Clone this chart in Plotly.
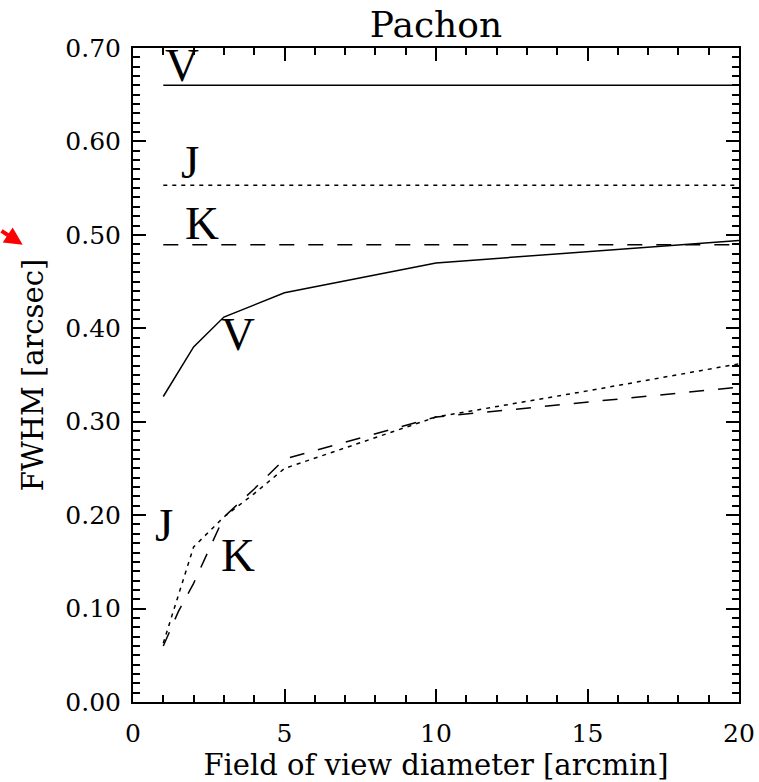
import plotly.graph_objects as go

# ---- data ----
fov_v = [1, 2, 3, 5, 10, 20]
fwhm_v = [0.327, 0.380, 0.412, 0.438, 0.470, 0.494]

fov_j = [1, 2, 3, 4, 5, 10, 15, 20]
fwhm_j = [0.063, 0.166, 0.198, 0.223, 0.250, 0.305, 0.333, 0.362]

fov_k = [1, 1.5, 2, 3, 4, 5, 10, 20]
fwhm_k = [0.060, 0.097, 0.127, 0.198, 0.228, 0.260, 0.305, 0.337]

fov_flat = [1, 20]
seeing_v = 0.660
seeing_j = 0.553
seeing_k = 0.4895

# label positions (band, x, y)
label_text = ["V", "J", "K", "V", "J", "K"]
label_x = [1.63, 1.88, 2.29, 3.45, 1.02, 3.45]
label_y = [0.682, 0.578, 0.513, 0.394, 0.189, 0.157]

BLACK = "black"
fig = go.Figure()

def add_line(x, y, dash, width=1.5):
    fig.add_trace(go.Scatter(x=x, y=y, mode="lines",
                             line=dict(color=BLACK, width=width, dash=dash),
                             showlegend=False, hoverinfo="skip"))

add_line(fov_flat, [seeing_v, seeing_v], "solid")
add_line(fov_flat, [seeing_j, seeing_j], "4px,5px")
add_line(fov_flat, [seeing_k, seeing_k], "15px,14px")
add_line(fov_v, fwhm_v, "solid")
add_line(fov_j, fwhm_j, "4px,5px")
add_line(fov_k, fwhm_k, "15px,14px")

for t, x, y in zip(label_text, label_x, label_y):
    fig.add_annotation(x=x, y=y, text=t, showarrow=False,
                       xanchor="center", yanchor="middle",
                       font=dict(family="Liberation Serif", size=47, color=BLACK))

# red arrow at left edge
fig.add_annotation(xref="paper", yref="paper", x=-0.182, y=0.699,
                   ax=-40, ay=-15, text="", showarrow=True,
                   arrowhead=2, arrowsize=0.9, arrowwidth=4, arrowcolor="red")

tickfont = dict(family="DejaVu Serif", size=25, color=BLACK)
titlefont = dict(family="DejaVu Serif", size=29, color=BLACK)

fig.update_layout(
    width=759, height=782,
    margin=dict(l=133, r=20, t=48, b=80),
    paper_bgcolor="white", plot_bgcolor="white",
    title=dict(text="Pachon", x=0.5, xref="paper", xanchor="center",
               y=1 - 24 / 782, yanchor="middle",
               font=dict(family="DejaVu Serif", size=36, color=BLACK)),
    xaxis=dict(range=[0, 20], dtick=5, tick0=0, automargin=False,
               ticks="inside", ticklen=13, tickwidth=1.5, tickcolor=BLACK,
               showline=True, linewidth=2, linecolor=BLACK, mirror="ticks",
               minor=dict(dtick=1, ticks="inside", ticklen=7, tickwidth=1.5, tickcolor=BLACK),
               showgrid=False, zeroline=False, tickfont=tickfont, ticklabelstandoff=8,
               title=dict(text="Field of view diameter [arcmin]", font=titlefont, standoff=7)),
    yaxis=dict(range=[0, 0.70], dtick=0.1, tick0=0, tickformat=".2f", automargin=False,
               ticks="inside", ticklen=13, tickwidth=1.5, tickcolor=BLACK,
               showline=True, linewidth=2, linecolor=BLACK, mirror="ticks",
               minor=dict(dtick=0.01, ticks="inside", ticklen=7, tickwidth=1.5, tickcolor=BLACK),
               showgrid=False, zeroline=False, tickfont=tickfont, ticklabelstandoff=5,
               title=dict(text="FWHM [arcsec]", font=titlefont, standoff=13)),
)

fig.write_html("out.html")
